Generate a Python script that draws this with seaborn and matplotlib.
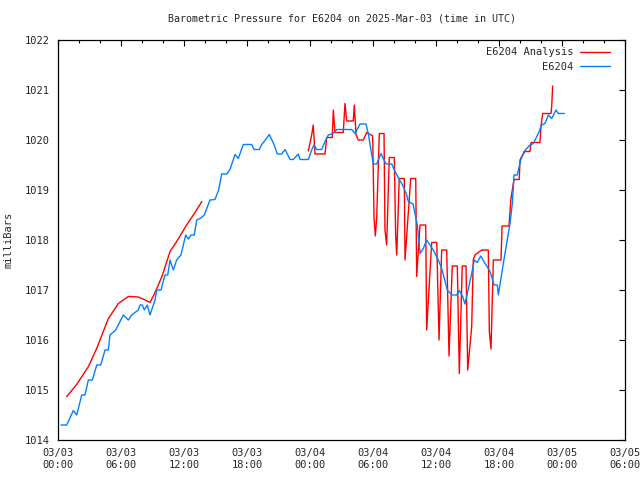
"""
E6204 barometric pressure, 2025-03-03 (UTC)
"""
import pandas as pd
import numpy as np
import matplotlib
matplotlib.use("Agg")
import matplotlib.pyplot as plt
import matplotlib.dates as mdates
from matplotlib.lines import Line2D
import seaborn as sns

START = pd.Timestamp("2025-03-03 00:00")

# station observations (hours after start, mbar)
obs_hours = [0.29, 0.83, 1.46, 1.78, 2.26, 2.57, 2.89, 3.27, 3.69, 4.07, 4.48, 4.79,
             4.95, 5.50, 6.22, 6.70, 7.02, 7.65, 7.81, 8.03, 8.22, 8.50, 8.76, 9.24,
             9.40, 9.81, 10.19, 10.45, 10.67, 10.98, 11.30, 11.71, 12.16, 12.41, 12.67,
             12.98, 13.21, 13.62, 13.93, 14.48, 14.95, 15.30, 15.59, 16.07, 16.38, 16.86,
             17.17, 17.65, 18.45, 18.67, 19.17, 19.40, 19.71, 20.12, 20.57, 20.89, 21.30,
             21.62, 22.10, 22.41, 22.89, 23.05, 23.84, 24.16, 24.38, 24.64, 25.11, 25.43,
             25.74, 26.22, 26.54, 27.97, 28.29, 28.76, 29.33, 29.55, 29.78, 30.03, 30.35,
             30.76, 30.98, 31.24, 31.78, 32.10, 32.50, 32.89, 33.21, 33.36, 33.81, 34.00,
             34.22, 34.48, 34.79, 35.11, 35.43, 35.74, 36.22, 36.54, 36.86, 37.08, 37.50,
             37.97, 38.22, 38.54, 38.76, 38.98, 39.40, 39.65, 39.93, 40.26, 40.67, 41.08,
             41.40, 41.52, 41.84, 41.94, 42.16, 42.41, 42.73, 43.05, 43.27, 43.43, 43.74,
             44.07, 44.38, 44.95, 45.27, 45.74, 46.07, 46.38, 46.70, 47.02, 47.43, 47.65,
             48.22]
obs_mbar = [1014.30, 1014.30, 1014.59, 1014.50, 1014.90, 1014.90, 1015.20, 1015.20,
            1015.50, 1015.50, 1015.80, 1015.80, 1016.10, 1016.20, 1016.50, 1016.40,
            1016.50, 1016.60, 1016.70, 1016.70, 1016.60, 1016.70, 1016.50, 1016.80,
            1017.00, 1017.00, 1017.30, 1017.30, 1017.60, 1017.40, 1017.60, 1017.70,
            1018.10, 1018.02, 1018.10, 1018.10, 1018.40, 1018.44, 1018.50, 1018.80,
            1018.81, 1019.00, 1019.32, 1019.32, 1019.41, 1019.71, 1019.63, 1019.91,
            1019.91, 1019.81, 1019.81, 1019.91, 1019.99, 1020.11, 1019.91, 1019.72,
            1019.72, 1019.81, 1019.61, 1019.61, 1019.72, 1019.61, 1019.61, 1019.80,
            1019.90, 1019.81, 1019.81, 1019.97, 1020.10, 1020.13, 1020.21, 1020.21,
            1020.13, 1020.32, 1020.32, 1020.13, 1019.83, 1019.52, 1019.52, 1019.73,
            1019.63, 1019.52, 1019.52, 1019.37, 1019.21, 1019.07, 1018.90, 1018.77,
            1018.72, 1018.53, 1018.30, 1017.73, 1017.83, 1018.00, 1017.90, 1017.80,
            1017.60, 1017.43, 1017.17, 1017.00, 1016.90, 1016.90, 1016.99, 1016.87,
            1016.72, 1016.93, 1017.33, 1017.60, 1017.55, 1017.68, 1017.53, 1017.40,
            1017.20, 1017.10, 1017.10, 1016.90, 1017.20, 1017.53, 1017.93, 1018.33,
            1018.73, 1019.30, 1019.30, 1019.60, 1019.77, 1019.90, 1019.93, 1020.13,
            1020.30, 1020.33, 1020.50, 1020.43, 1020.60, 1020.53, 1020.53]

# analysis, first run (smooth)
ana1_hours = [0.83, 1.78, 2.90, 3.68, 4.80, 5.75, 6.70, 7.65, 8.30, 8.76, 9.20, 9.90,
              10.67, 11.30, 12.25, 13.05, 13.70]
ana1_mbar = [1014.87, 1015.11, 1015.47, 1015.83, 1016.43, 1016.73, 1016.87, 1016.86,
             1016.80, 1016.75, 1016.93, 1017.27, 1017.77, 1017.97, 1018.30, 1018.55,
             1018.77]

# analysis, second run (hourly values with dips)
ana2_hours = [23.84, 24.16, 24.31, 24.48, 25.43, 25.59, 26.12, 26.22, 26.38, 27.17,
              27.33, 27.50, 28.12, 28.22, 28.38, 28.60, 29.08, 29.40, 29.97, 30.10,
              30.22, 30.35, 30.60, 31.05, 31.14, 31.30, 31.55, 32.03, 32.16, 32.26,
              32.50, 32.98, 33.05, 33.59, 34.07, 34.16, 34.48, 35.02, 35.11, 35.59,
              36.07, 36.29, 36.54, 37.02, 37.24, 37.55, 38.03, 38.22, 38.50, 38.86,
              39.02, 39.40, 39.55, 39.71, 40.35, 40.98, 41.08, 41.24, 41.46, 42.19,
              42.29, 42.95, 43.14, 43.43, 43.93, 44.00, 44.16, 44.48, 44.95, 45.05,
              45.27, 45.90, 46.00, 46.16, 46.95, 47.02, 47.11]
ana2_mbar = [1019.78, 1020.10, 1020.30, 1019.72, 1019.72, 1020.05, 1020.05, 1020.60,
             1020.15, 1020.15, 1020.73, 1020.38, 1020.38, 1020.70, 1020.11, 1020.00,
             1020.00, 1020.15, 1020.08, 1018.44, 1018.08, 1018.44, 1020.13, 1020.13,
             1018.20, 1017.90, 1019.65, 1019.65, 1018.07, 1017.70, 1019.23, 1019.23,
             1017.60, 1019.23, 1019.23, 1017.27, 1018.30, 1018.30, 1016.20, 1017.95,
             1017.95, 1016.00, 1017.80, 1017.80, 1015.68, 1017.48, 1017.48, 1015.33,
             1017.48, 1017.48, 1015.40, 1016.27, 1017.61, 1017.70, 1017.80, 1017.80,
             1016.17, 1015.82, 1017.60, 1017.60, 1018.28, 1018.28, 1018.83, 1019.21,
             1019.21, 1019.60, 1019.67, 1019.77, 1019.77, 1019.95, 1019.95, 1019.95,
             1020.27, 1020.53, 1020.53, 1020.67, 1021.08]

RED = "#ff0000"
BLUE = "#0080ff"

sns.set_style("white")
plt.rcParams['font.family'] = ['DejaVu Sans Mono', 'DejaVu Sans']
plt.rcParams['font.size'] = 7.5

obs = pd.DataFrame({"time": START + pd.to_timedelta(obs_hours, unit="h"), "mbar": obs_mbar})
ana = pd.concat([
    pd.DataFrame({"time": START + pd.to_timedelta(ana1_hours, unit="h"), "mbar": ana1_mbar, "run": 1}),
    pd.DataFrame({"time": START + pd.to_timedelta(ana2_hours, unit="h"), "mbar": ana2_mbar, "run": 2}),
])

fig = plt.figure(figsize=(6.4, 4.8), dpi=100)
ax = fig.add_axes([58 / 640, 40 / 480, 567 / 640, 400 / 480])

sns.lineplot(data=ana, x="time", y="mbar", units="run", estimator=None, sort=False,
             color=RED, linewidth=1.0, ax=ax)
sns.lineplot(data=obs, x="time", y="mbar", estimator=None, sort=False,
             color=BLUE, linewidth=1.0, ax=ax)

ax.set_xlim(START, START + pd.Timedelta(hours=54))
ax.set_ylim(1014, 1022)
ax.set_yticks(np.arange(1014, 1023, 1))
ax.xaxis.set_major_locator(mdates.HourLocator(byhour=[0, 6, 12, 18]))
ax.xaxis.set_major_formatter(mdates.DateFormatter("%m/%d\n%H:%M"))
ax.xaxis.set_minor_locator(mdates.HourLocator(interval=2))

ax.tick_params(which="both", direction="in", top=True, right=True, color="black",
               labelsize=7.5, width=0.8)
ax.tick_params(which="major", length=4, pad=6)
ax.tick_params(which="minor", length=2.5)
for sp in ax.spines.values():
    sp.set_color("black")
    sp.set_linewidth(0.9)

ax.set_xlabel("")
ax.set_ylabel("milliBars", fontsize=7.5, labelpad=8)
ax.set_title("Barometric Pressure for E6204 on 2025-Mar-03 (time in UTC)",
             fontsize=7.2, pad=13)

handles = [Line2D([], [], color=RED, lw=1.0), Line2D([], [], color=BLUE, lw=1.0)]
ax.legend(handles, ["E6204 Analysis", "E6204"], loc="upper right", frameon=False,
          markerfirst=False, fontsize=7.5, handlelength=2.9, handletextpad=0.6,
          borderaxespad=0, bbox_to_anchor=(1 - 11 / 567, 1 - 3 / 400), labelspacing=0.45)

plt.savefig("out.png", dpi=100)
